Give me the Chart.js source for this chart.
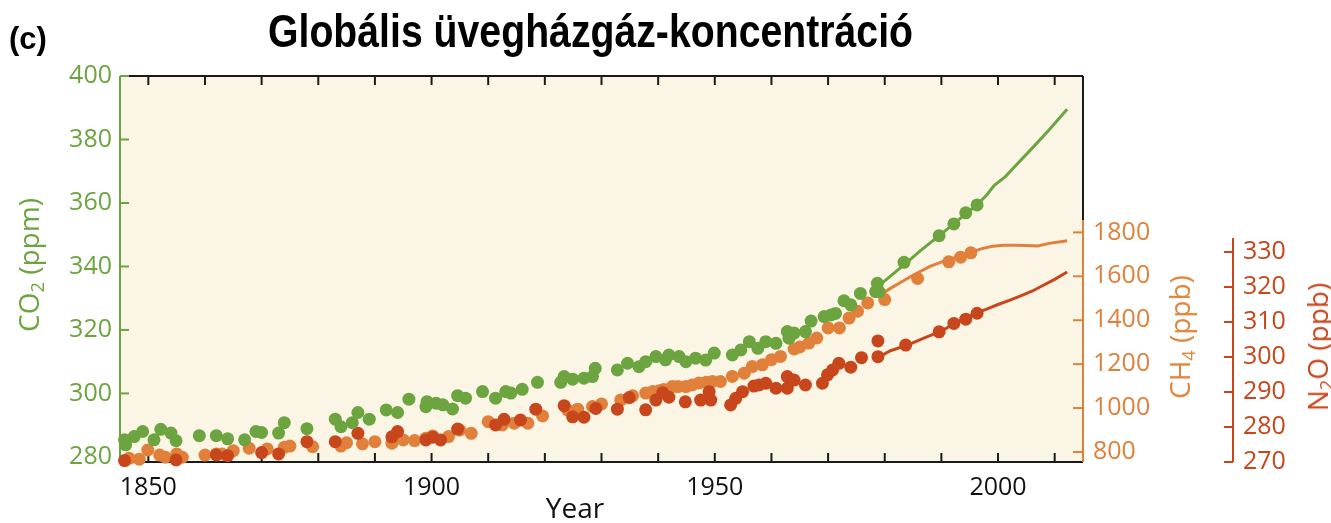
<!DOCTYPE html>
<html lang="hu">
<head>
<meta charset="utf-8">
<script src="https://cdn.jsdelivr.net/npm/chart.js"></script>
<style>
  body { margin: 0; background: #fff; }
  #wrap { position: relative; width: 1331px; height: 523px; font-family: 'Open Sans', sans-serif; }
  #chart { position: absolute; left: 0; top: 0; }
  .lbl { position: absolute; white-space: nowrap; line-height: 1; }
  .rot { transform: translate(-50%, -50%) rotate(-90deg); }
  sub { font-size: 65%; vertical-align: -0.28em; line-height: 0; }
  #panel, #title { font-family: 'Liberation Sans Narrow', 'Arial Narrow', 'Liberation Sans', sans-serif; font-weight: bold; color: #000; }
</style>
</head>
<body>
<div id="wrap">
  <canvas id="chart" width="1331" height="523"></canvas>
  <div class="lbl" id="panel" style="left:9px;top:23px;font-size:31px">(c)</div>
  <div class="lbl" id="title" style="left:268px;top:7px;font-size:47px;transform-origin:0 0">Globális üvegházgáz-koncentráció</div>
  <div class="lbl rot" style="left:28px;top:265px;color:#6ca43f;font-size:28px">CO<sub>2</sub> (ppm)</div>
  <div class="lbl rot" style="left:1179px;top:337px;color:#e0843a;font-size:28px">CH<sub>4</sub> (ppb)</div>
  <div class="lbl rot" style="left:1317px;top:347px;color:#c9471c;font-size:28px">N<sub>2</sub>O (ppb)</div>
  <div class="lbl" style="left:575px;top:507px;transform:translate(-50%,-50%);color:#111;font-size:28px">Year</div>
</div>
<script>
const co2DotYears = [1845.8, 1846, 1847.5, 1849, 1851, 1852.2, 1854, 1854.9, 1859, 1862, 1864, 1867, 1869, 1870,
  1873, 1874, 1878, 1883, 1884, 1886, 1887, 1889, 1892, 1894, 1896, 1899, 1899.2, 1900.8, 1902, 1903.7, 1904.6,
  1906, 1909, 1911.3, 1913.1, 1914, 1916, 1918.7, 1922.8, 1923.4, 1924.9, 1926.9, 1928.4, 1928.9, 1932.8, 1934.6,
  1936.6, 1937.8, 1939.6, 1941.3, 1941.9, 1943.7, 1944.9, 1946.6, 1948.4, 1949.9, 1953.1, 1954.6, 1956.1, 1957.6,
  1959, 1960.8, 1962.8, 1963.1, 1964, 1966, 1967, 1969.3, 1970.5, 1971.3, 1972.8, 1974, 1975.7, 1978.4, 1978.7,
  1979, 1983.4, 1989.6, 1992.2, 1994.3, 1996.3];
const co2DotPpm = [285.4, 283.8, 286.4, 288, 285.4, 288.7, 287.5, 285.1, 286.7, 286.7, 285.7, 285.4, 288, 287.7,
  287.5, 290.8, 288.9, 291.9, 289.5, 290.8, 294, 291.9, 294.8, 294, 298.2, 295.8, 297.4, 296.9, 296.4, 295.1, 299.3,
  298.5, 300.6, 298.5, 300.6, 300.1, 301.3, 303.5, 303.5, 305.3, 304.5, 304.8, 305.3, 307.9, 307.4, 309.5,
  308.4, 310, 311.6, 310.6, 312.1, 311.6, 310, 311.1, 310.5, 312.7, 312.1, 313.7, 316.3, 314.2,
  316.3, 315.8, 319.5, 317.4, 319, 319.5, 322.8, 324.2, 324.7, 325.2, 329.2, 327.9, 331.5, 332.1, 334.7,
  332.1, 341.3, 349.7, 353.4, 356.9, 359.4];
const co2LineYears = [1978.5, 1980, 1983.4, 1986, 1989.6, 1992.2, 1994.3, 1996.3, 1998, 1999.3, 2001.3, 2003, 2006, 2009, 2012.2];
const co2LinePpm = [332.8, 335.5, 340.5, 344.5, 349.7, 353.4, 356.6, 359.4, 362.5, 365.5, 368.3, 371.6, 377.2, 383, 389.5];

const ch4DotYears = [1846.6, 1848.4, 1849.9, 1852, 1853, 1855, 1856, 1860, 1862, 1863, 1865, 1867.8, 1871, 1874,
  1875, 1879, 1884, 1885, 1887.8, 1890, 1893, 1895, 1897, 1899, 1900.2, 1903, 1905, 1907, 1910, 1912.5, 1914.6,
  1917, 1919.6, 1924, 1925.8, 1928.4, 1930, 1933.4, 1935.5, 1937.8, 1939, 1940.2, 1941, 1942.5, 1943.5, 1944.9,
  1946, 1947.2, 1948.5, 1949.6, 1951, 1953.1, 1955.2, 1956.6, 1958.4, 1960, 1961.6, 1964, 1965, 1966.6, 1968,
  1970, 1972, 1973.7, 1975.2, 1977, 1980, 1985.8, 1991.3, 1993.4, 1995.2];
const ch4DotPpb = [771, 767, 809, 786, 776, 791, 776, 786, 791, 791, 806, 817, 814, 821,
  827, 824, 827, 842, 837, 847, 840, 855, 852, 863, 873, 870, 900, 885, 938, 923, 931,
  931, 964, 992, 995, 1007, 1019, 1037, 1056, 1068, 1075, 1079, 1085, 1098, 1098, 1098,
  1105, 1114, 1118, 1121, 1121, 1144, 1159, 1189, 1197, 1220, 1235, 1269, 1278, 1296, 1319,
  1365, 1365, 1410, 1441, 1479, 1494, 1590, 1666, 1687, 1707];
const ch4LineYears = [1979.5, 1981, 1983, 1985, 1988, 1991, 1993, 1995, 1997, 1999, 2001, 2003, 2005, 2007, 2009, 2011, 2012.2];
const ch4LinePpb = [1520, 1545, 1575, 1605, 1645, 1675, 1690, 1707, 1725, 1737, 1741, 1742, 1740, 1738, 1750, 1757, 1762];

const n2oDotYears = [1845.8, 1854.9, 1862, 1864, 1870, 1873, 1878, 1883, 1887, 1893, 1894, 1899, 1900.2, 1901.6,
  1904.6, 1911.3, 1912.8, 1915.7, 1918.4, 1923.4, 1924.9, 1926.9, 1929, 1932.8, 1934.9, 1937.8, 1939.6, 1940.8,
  1941.9, 1944.8, 1947.5, 1949, 1949.3, 1952.8, 1953.7, 1954.9, 1956.9, 1957.8, 1959, 1960.8, 1962.8, 1962.8,
  1964, 1966, 1969, 1969.9, 1970.8, 1971.9, 1974, 1975.9, 1978.8, 1978.8, 1983.7, 1989.6, 1992.2, 1994.3, 1996.3];
const n2oDotPpb = [270.4, 270.6, 272, 271.8, 272.7, 272.3, 275.8, 275.8, 278.2, 277.2, 278.7, 276.3, 277.1, 276.3,
  279.4, 280.6, 282.2, 282, 285.1, 286.1, 282.9, 282.8, 285.3, 285.1, 288.4, 284.9, 287.7, 289.8,
  288.5, 287.2, 287.7, 290.1, 287.7, 286.3, 288.2, 290.1, 291.7, 292, 292.5, 291.1, 291.1, 294.4,
  293.4, 292, 292.5, 294.9, 296.3, 298.2, 297.1, 299.8, 300.1, 304.6, 303.4, 307.2, 309.6, 310.8, 312.5];
const n2oLineYears = [1979, 1981, 1984, 1987, 1990, 1992, 1994, 1996, 1998, 2000, 2002, 2004, 2006, 2008, 2010, 2012.2];
const n2oLinePpb = [300, 301.8, 303.4, 305.5, 307.4, 309.3, 310.8, 312.5, 313.7, 315, 316.2, 317.5, 318.8, 320.5, 322.2, 324.3];

const xLabelYears = [1850, 1900, 1950, 2000];
const xTickYears = [1850, 1860, 1870, 1880, 1890, 1900, 1910, 1920, 1930, 1940, 1950, 1960, 1970, 1980, 1990, 2000, 2010];
const co2Ticks = [280, 300, 320, 340, 360, 380, 400];
const ch4Ticks = [800, 1000, 1200, 1400, 1600, 1800];
const n2oTicks = [270, 280, 290, 300, 310, 320, 330];

const GREEN = '#6ca43f', ORANGE = '#e0803a', RED = '#c8461b', INK = '#1a1a1a';

function pts(xs, ys) { return xs.map((x, i) => ({ x: x, y: ys[i] })); }

function seg(ctx, color, x1, y1, x2, y2) {
  ctx.strokeStyle = color;
  ctx.beginPath(); ctx.moveTo(x1, y1); ctx.lineTo(x2, y2); ctx.stroke();
}

const frame = {
  id: 'frame',
  beforeDraw(chart) {
    const a = chart.chartArea, ctx = chart.ctx;
    ctx.save();
    ctx.fillStyle = '#fbf5e6';
    ctx.fillRect(a.left, a.top, a.right - a.left, a.bottom - a.top);
    ctx.restore();
  },
  beforeDatasetsDraw(chart) {
    const a = chart.chartArea, ctx = chart.ctx, s = chart.scales;
    ctx.save();
    ctx.lineWidth = 2;
    seg(ctx, INK, a.left, a.top, a.right, a.top);
    seg(ctx, INK, a.left, a.bottom, a.right, a.bottom);
    xTickYears.forEach(yr => {
      const px = s.x.getPixelForValue(yr);
      seg(ctx, INK, px, a.bottom, px, a.bottom - 9);
      seg(ctx, INK, px, a.top, px, a.top + 9);
    });
    seg(ctx, GREEN, a.left, a.top, a.left, a.bottom);
    co2Ticks.forEach(v => {
      const py = s.yCO2.getPixelForValue(v);
      seg(ctx, GREEN, a.left, py, a.left + 9, py);
    });
    // CH4 axis only covers the lower part of the right edge
    const ch4Top = s.yCH4.getPixelForValue(1855);
    seg(ctx, INK, a.right, a.top, a.right, ch4Top);
    seg(ctx, ORANGE, a.right, ch4Top, a.right, a.bottom);
    ch4Ticks.forEach(v => {
      const py = s.yCH4.getPixelForValue(v);
      seg(ctx, ORANGE, a.right, py, a.right - 10, py);
    });
    const nx = s.yN2O.left;
    seg(ctx, RED, nx, s.yN2O.getPixelForValue(334), nx, a.bottom);
    n2oTicks.forEach(v => {
      const py = s.yN2O.getPixelForValue(v);
      seg(ctx, RED, nx, py, nx - 9, py);
    });
    ctx.restore();
  }
};

function dots(data, color, axis) {
  return { data: data, yAxisID: axis, showLine: false, pointRadius: 6.5, pointBorderWidth: 0,
    pointBackgroundColor: color, backgroundColor: color, clip: false };
}
function trace(data, color, axis) {
  return { data: data, yAxisID: axis, showLine: true, pointRadius: 0, borderWidth: 3,
    borderColor: color, tension: 0, clip: false };
}
function fixedTicks(list) { return axis => { axis.ticks = list.map(v => ({ value: v })); }; }
const plain = v => String(v);

const tickFont = { family: "'Open Sans', sans-serif", size: 25 };

new Chart(document.getElementById('chart'), {
  type: 'scatter',
  data: {
    datasets: [
      dots(pts(co2DotYears, co2DotPpm), GREEN, 'yCO2'),
      trace(pts(co2LineYears, co2LinePpm), GREEN, 'yCO2'),
      dots(pts(n2oDotYears, n2oDotPpb), RED, 'yN2O'),
      trace(pts(n2oLineYears, n2oLinePpb), RED, 'yN2O'),
      dots(pts(ch4DotYears, ch4DotPpb), ORANGE, 'yCH4'),
      trace(pts(ch4LineYears, ch4LinePpb), ORANGE, 'yCH4'),
    ],
  },
  options: {
    responsive: false,
    animation: false,
    layout: { padding: { top: 76, left: 0, right: 0, bottom: 0 } },
    plugins: { legend: { display: false }, tooltip: { enabled: false } },
    scales: {
      x: {
        type: 'linear', position: 'bottom', min: 1845, max: 2015,
        afterBuildTicks: fixedTicks(xLabelYears),
        afterFit: sc => { sc.height = 61; },
        grid: { display: false, drawTicks: false }, border: { display: false },
        ticks: { font: tickFont, color: '#111', padding: 11, maxRotation: 0, autoSkip: false, callback: plain },
      },
      yCO2: {
        type: 'linear', position: 'left', min: 278.4, max: 400,
        afterBuildTicks: fixedTicks(co2Ticks),
        afterFit: sc => { sc.width = 120; },
        grid: { display: false, drawTicks: false }, border: { display: false },
        ticks: { font: tickFont, color: GREEN, padding: 8, callback: plain },
      },
      yCH4: {
        type: 'linear', position: 'right', min: 754.3, max: 2512.3,
        afterBuildTicks: fixedTicks(ch4Ticks),
        afterFit: sc => { sc.width = 150; },
        grid: { display: false, drawTicks: false }, border: { display: false },
        ticks: { font: tickFont, color: ORANGE, padding: 10, callback: plain },
      },
      yN2O: {
        type: 'linear', position: 'right', min: 270, max: 380.3,
        afterBuildTicks: fixedTicks(n2oTicks),
        afterFit: sc => { sc.width = 98; },
        grid: { display: false, drawTicks: false }, border: { display: false },
        ticks: { font: tickFont, color: RED, padding: 10, callback: plain },
      },
    },
  },
  plugins: [frame],
});

// squeeze the heading to the width it has in the figure
const title = document.getElementById('title');
const w = title.getBoundingClientRect().width;
title.style.transform = 'scaleX(' + (645 / w) + ')';
</script>
</body>
</html>
